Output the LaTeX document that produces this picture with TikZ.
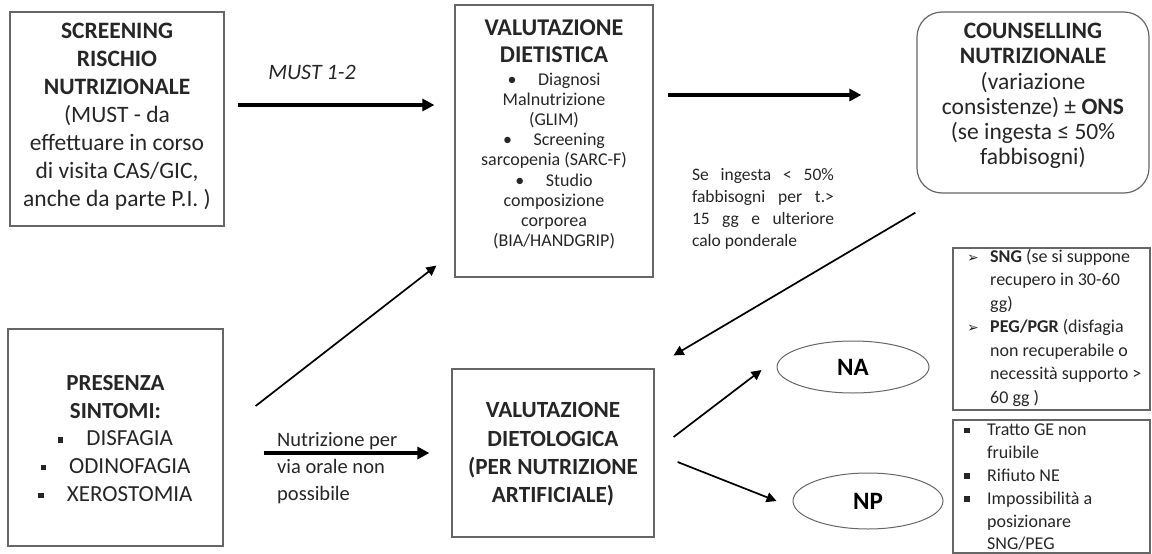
\documentclass[tikz,border=0pt]{standalone}
\usepackage{fontspec}
\setmainfont{Carlito}
\newfontfamily\simboli{DejaVu Sans}
\usetikzlibrary{arrows.meta,shapes.geometric,positioning}

\newcommand{\quadretto}{\rule[0.3ex]{5.5pt}{5.5pt}}
\newcommand{\freccina}{{\simboli\fontsize{14}{14}\selectfont ➢}}
\newcommand{\rientro}{\hspace*{23pt}}

\begin{document}
\begin{tikzpicture}[x=1pt, y=-1pt,
	riquadro/.style={draw=black!60, line width=1.2pt, inner sep=0pt},
	ovale/.style={ellipse, draw=black!60, line width=1pt, inner sep=0pt,
		font=\fontsize{25}{28}\selectfont\bfseries},
	testo/.style={align=center, inner sep=0pt, text=black!85},
	grossa/.style={line width=3.8pt, >={Triangle[length=12pt,width=12pt]}},
	sottile/.style={line width=1.7pt, >={Triangle[length=10pt,width=10pt]}}]
	
	\useasboundingbox (0,0) rectangle (1152,554);
	
	% riquadri
	\node[riquadro, minimum width=214, minimum height=214] (screening) at (117,119) {};
	\node[riquadro, minimum width=198, minimum height=272] (dietistica) at (554,141) {};
	\node[riquadro, rounded corners=25pt, minimum width=232, minimum height=181] (counselling) at (1033,102.5) {};
	\node[riquadro, minimum width=215, minimum height=217] (presenza) at (115.5,437.5) {};
	\node[riquadro, minimum width=202, minimum height=168] (dietologica) at (553,453) {};
	\node[riquadro, minimum width=197, minimum height=162] (sng) at (1051.5,329) {};
	\node[riquadro, minimum width=197, minimum height=133] (np-motivi) at (1051.5,486.5) {};
	\node[ovale, minimum width=152, minimum height=52] (na) at (853,367) {NA};
	\node[ovale, minimum width=150, minimum height=56] (np) at (868,501) {NP};
	
	% testi
	\node[testo, font=\fontsize{23.5}{28}\selectfont] (screening-t) at (117,117) {%
		\textbf{SCREENING}\\\textbf{RISCHIO}\\\textbf{NUTRIZIONALE}\\(MUST - da\\
		effettuare in corso\\di visita CAS/GIC,\\anche da parte P.I. )};
	\node[testo, font=\fontsize{24}{27}\selectfont\bfseries] (dietistica-t) at (554,41) {%
		VALUTAZIONE\\DIETISTICA};
	\node[testo, font=\fontsize{18}{20.2}\selectfont] (dietistica-l) at (554,161) {%
		\textbullet\hspace{1.2em}Diagnosi\\Malnutrizione\\(GLIM)\\
		\textbullet\hspace{1.2em}Screening\\sarcopenia (SARC-F)\\
		\textbullet\hspace{1.2em}Studio\\composizione\\corporea\\(BIA/HANDGRIP)};
	\node[testo, font=\fontsize{23.5}{25.2}\selectfont] (counselling-t) at (1033,96) {%
		\textbf{COUNSELLING}\\\textbf{NUTRIZIONALE}\\(variazione\\
		consistenze) ± \textbf{ONS}\\(se ingesta ≤ 50\%\\fabbisogni)};
	\node[testo, font=\fontsize{23}{27.7}\selectfont] (presenza-t) at (115.5,438.5) {%
		\textbf{PRESENZA}\\\textbf{SINTOMI:}\\\quadretto\hspace{1em}DISFAGIA\\
		\quadretto\hspace{1em}ODINOFAGIA\\\quadretto\hspace{1em}XEROSTOMIA};
	\node[testo, font=\fontsize{23.2}{28.3}\selectfont\bfseries] (dietologica-t) at (553,454.5) {%
		VALUTAZIONE\\DIETOLOGICA\\(PER NUTRIZIONE\\ARTIFICIALE)};
	\node[testo, align=left, anchor=west, font=\fontsize{18}{23.5}\selectfont] (sng-t) at (967,327.5) {%
		\makebox[23pt][l]{\freccina}\textbf{SNG} (se si suppone\\
		\rientro recupero in 30-60\\\rientro gg)\\
		\makebox[23pt][l]{\freccina}\textbf{PEG/PGR} (disfagia\\
		\rientro non recuperabile o\\\rientro necessità supporto >\\\rientro 60 gg )};
	\node[testo, align=left, anchor=west, font=\fontsize{18}{22.8}\selectfont] (np-motivi-t) at (964,487.5) {%
		\makebox[23pt][l]{\quadretto}Tratto GE non\\\rientro fruibile\\
		\makebox[23pt][l]{\quadretto}Rifiuto NE\\
		\makebox[23pt][l]{\quadretto}Impossibilità a\\\rientro posizionare\\\rientro SNG/PEG};
	
	% etichette delle frecce
	\node[testo, font=\fontsize{22}{24}\selectfont\itshape] (must) at (312,72) {MUST 1-2};
	\node[testo, align=left, anchor=west, font=\fontsize{20.5}{27}\selectfont] (orale) at (277,468) {%
		Nutrizione per\\via orale non\\possibile};
	\node[testo, align=justify, text width=142, font=\fontsize{17.5}{22}\selectfont] (ingesta) at (763,208.5) {%
		Se ingesta < 50\%\linebreak fabbisogni per t.>\linebreak 15 gg e ulteriore\linebreak calo ponderale};
	
	% frecce
	\draw[grossa, ->] ([shift={(13pt,14pt)}]screening.east) -- ([shift={(-20pt,36pt)}]dietistica.west);
	\draw[grossa, ->] ([shift={(14pt,46pt)}]dietistica.east) -- ([shift={(-55pt,7.5pt)}]counselling.west);
	\draw[sottile, ->] ([shift={(-1pt,-19pt)}]counselling.south west) -- ([shift={(19pt,13pt)}]dietologica.north east);
	\draw[sottile, ->] ([shift={(32pt,31.5pt)}]presenza.east) -- ([shift={(-18pt,12pt)}]dietistica.south west);
	\draw[grossa, ->] ([shift={(40pt,-15.5pt)}]presenza.east) -- ([shift={(-22pt,0pt)}]dietologica.west);
	\draw[sottile, ->] ([shift={(19pt,16pt)}]dietologica.east) -- ([shift={(-15pt,-3pt)}]na.west);
	\draw[sottile, ->] ([shift={(23pt,-9pt)}]dietologica.east) -- ([shift={(-16pt,0pt)}]np.west);
	
\end{tikzpicture}
\end{document}
